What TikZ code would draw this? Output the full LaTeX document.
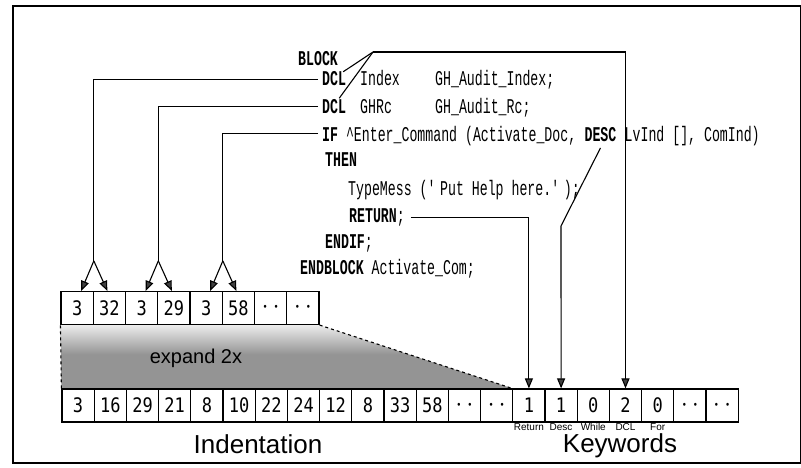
\documentclass[tikz,border=0pt]{standalone}
\usepackage{fontspec}
\setmainfont{Liberation Sans}
\newfontfamily\codefont[FakeStretch=0.63]{Liberation Mono}
\newfontfamily\cellfont[FakeStretch=0.85]{DejaVu Sans Mono}
\usetikzlibrary{arrows.meta, calc, positioning, backgrounds}
\definecolor{spitze}{gray}{0.25}
\definecolor{raster}{gray}{0.58}
\pgfdeclareverticalshading{expandfade}{100bp}{color(0bp)=(raster); color(52bp)=(raster);
  color(80bp)=(white); color(100bp)=(white)}
\newcommand{\punkte}{{\fontsize{10}{10}\selectfont\textbullet\hspace{6pt}\textbullet}}

\begin{document}
\begin{tikzpicture}[x=1pt, y=-1pt,
        cell/.style={draw, line width=1.2pt, minimum width=32.2pt, minimum height=33pt,
                     inner sep=0pt, font=\cellfont\fontsize{20}{20}\selectfont},
        code/.style={anchor=base west, inner sep=0pt,
                     font=\codefont\fontsize{21}{22}\selectfont},
        wire/.style={line width=1.1pt},
        arr/.style={wire, -{Triangle[length=10pt, width=8pt, fill=spitze]}},
        kwlab/.style={font=\fontsize{10}{10}\selectfont, inner sep=0.5pt}
      ]
      \useasboundingbox (0,0) rectangle (801,468);
      \draw[line width=1.4pt] (13,6) rectangle (800.5,463);

      % the code
      \node[code] (blk) at (298,65.5) {\textbf{BLOCK}};
      \node[code] (dcl1) at (322,86) {\textbf{DCL}};
      \node[code] (idx) at (360,86) {Index};
      \node[code] (gha) at (435,86) {GH\_Audit\_Index;};
      \node[code] (dcl2) at (322,113.5) {\textbf{DCL}};
      \node[code] (ghrc) at (360,113.5) {GHRc};
      \node[code] (ghb) at (435,113.5) {GH\_Audit\_Rc;};
      \node[code] (ifl) at (322,141.5)
        {\textbf{IF} \textasciicircum Enter\_Command (Activate\_Doc,};
      \node[code] (desc) at ([xshift=7.94pt]ifl.base east) {\textbf{DESC}};
      \node[code] (lvind) at ([xshift=7.94pt]desc.base east) {LvInd [], ComInd)};
      \node[code] (then) at (325,167) {\textbf{THEN}};
      \node[code] (tmess) at (348,195.5)
        {TypeMess (\textquotesingle Put Help here.\textquotesingle);};
      \node[code] (ret) at (349,222.5) {\textbf{RETURN};};
      \node[code] (endif) at (325,248.5) {\textbf{ENDIF};};
      \node[code] (endblk) at (300,274.5) {\textbf{ENDBLOCK} Activate\_Com;};

      % the two arrays
      \foreach \v [count=\i] in {3,32,3,29,3,58,\punkte,\punkte}
        \node[cell] (s\i) at ({61+(\i-0.5)*32.25},308) {\v};
      \foreach \v [count=\i] in {3,16,29,21,8,10,22,24,12,8,33,58,\punkte,\punkte}
        \node[cell] (i\i) at ({62+(\i-0.5)*32.2},405.5) {\v};
      \foreach \v [count=\i] in {1,1,0,2,0,\punkte,\punkte}
        \node[cell] (k\i) at ({62+(\i+13.5)*32.2},405.5) {\v};

      \begin{scope}[on background layer]
        \shade[shading=expandfade] (s1.south west) -- (s8.south east)
          -- (k1.north west) -- (i1.north west) -- cycle;
      \end{scope}
      \draw[wire, dashed] (i1.north west) -- (s1.south west);
      \draw[wire, dashed] (s8.south east) -- (k1.north west);
      \node[font=\fontsize{20}{20}\selectfont] (expand) at (196,358) {expand 2x};

      \node[kwlab, below=0pt of k1] (lret) {Return};
      \node[kwlab, below=0pt of k2] (ldesc) {Desc};
      \node[kwlab, below=0pt of k3] (lwhile) {While};
      \node[kwlab, below=0pt of k4] (ldcl) {DCL};
      \node[kwlab, below=0pt of k5] (lfor) {For};
      \node[font=\fontsize{26}{26}\selectfont] (indent) at (258,444) {Indentation};
      \node[font=\fontsize{26}{26}\selectfont] (keyw) at (620,446) {Keywords};

      % indentation arrows
      \coordinate (knot1) at ($(s1.north east)+(0,-30)$);
      \coordinate (knot2) at ($(s3.north east)+(0,-30)$);
      \coordinate (knot3) at ($(s5.north east)+(0,-30)$);
      \draw[wire] ([xshift=-4pt]dcl1.west) -| (knot1);
      \draw[wire] ([xshift=-4pt]dcl2.west) -| (knot2);
      \draw[wire] ([xshift=-4pt,yshift=3pt]ifl.west) -| (knot3);
      \draw[arr] (knot1) -- ([xshift=4pt]s1.north);
      \draw[arr] (knot1) -- ([xshift=-2pt]s2.north);
      \draw[arr] (knot2) -- ([xshift=4pt]s3.north);
      \draw[arr] (knot2) -- ([xshift=-2pt]s4.north);
      \draw[arr] (knot3) -- ([xshift=4pt]s5.north);
      \draw[arr] (knot3) -- ([xshift=-2pt]s6.north);

      % keyword arrows
      \coordinate (apex) at (373,52);
      \coordinate (descknick) at (561,226);
      \draw[wire] (apex) -- ([xshift=-3pt]dcl1.north east);
      \draw[wire] (apex) -- ([xshift=-7pt,yshift=1pt]dcl2.north east);
      \draw[arr] (apex) -| (k4.north);
      \draw[arr] ([yshift=-6pt]desc.south) -- (descknick) -- (k2.north);
      \draw[arr] ([xshift=6pt]ret.east) -| (k1.north);
    \end{tikzpicture}
\end{document}
